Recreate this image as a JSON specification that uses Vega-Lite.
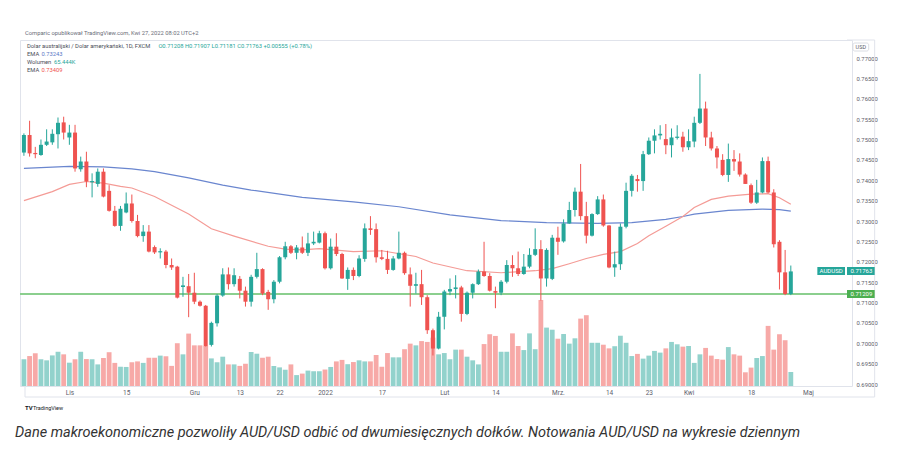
{
  "$schema": "https://vega.github.io/schema/vega-lite/v6.json",
  "width": 832,
  "height": 346,
  "autosize": {"type": "none"},
  "padding": {"left": 20, "top": 40, "right": 57, "bottom": 85},
  "background": "#ffffff",
  "config": {
    "view": {"stroke": "#e0e3eb", "strokeWidth": 1},
    "text": {"font": "Roboto"},
    "axis": {"labelFont": "Roboto", "labelFontSize": 6.5, "labelColor": "#5d606b", "grid": false, "ticks": false, "domain": false, "title": null, "labelFlush": false, "labelOverlap": false}
  },
  "title": {"text": "Dane makroekonomiczne pozwoliły AUD/USD odbić od dwumiesięcznych dołków. Notowania AUD/USD na wykresie dziennym", "orient": "bottom", "anchor": "start", "frame": "group", "font": "Roboto", "fontSize": 14.5, "fontStyle": "italic", "fontWeight": "normal", "color": "#333333", "offset": 14, "dx": -5},
  "datasets": {
    "bars": [
      {"i":0,"d":"2021-10-20","o":0.7468,"h":0.7515,"l":0.7460,"c":0.7511,"v":125},
      {"i":1,"d":"2021-10-21","o":0.7511,"h":0.7546,"l":0.7458,"c":0.7466,"v":140},
      {"i":2,"d":"2021-10-22","o":0.7467,"h":0.7482,"l":0.7454,"c":0.7464,"v":153},
      {"i":3,"d":"2021-10-25","o":0.7462,"h":0.7500,"l":0.7460,"c":0.7487,"v":125},
      {"i":4,"d":"2021-10-26","o":0.7487,"h":0.7525,"l":0.7484,"c":0.7495,"v":120},
      {"i":5,"d":"2021-10-27","o":0.7493,"h":0.7525,"l":0.7487,"c":0.7514,"v":143},
      {"i":6,"d":"2021-10-28","o":0.7513,"h":0.7554,"l":0.7478,"c":0.7541,"v":160},
      {"i":7,"d":"2021-10-29","o":0.7542,"h":0.7556,"l":0.7500,"c":0.7517,"v":148},
      {"i":8,"d":"2021-11-01","o":0.7505,"h":0.7536,"l":0.7487,"c":0.7517,"v":109},
      {"i":9,"d":"2021-11-02","o":0.7517,"h":0.7536,"l":0.7421,"c":0.7429,"v":125},
      {"i":10,"d":"2021-11-03","o":0.7427,"h":0.7458,"l":0.7421,"c":0.7446,"v":160},
      {"i":11,"d":"2021-11-04","o":0.7446,"h":0.7470,"l":0.7383,"c":0.7397,"v":126},
      {"i":12,"d":"2021-11-05","o":0.7395,"h":0.7417,"l":0.7358,"c":0.7398,"v":125},
      {"i":13,"d":"2021-11-08","o":0.7391,"h":0.7429,"l":0.7384,"c":0.7421,"v":101},
      {"i":14,"d":"2021-11-09","o":0.7421,"h":0.7429,"l":0.7358,"c":0.7360,"v":131},
      {"i":15,"d":"2021-11-10","o":0.7374,"h":0.7388,"l":0.7323,"c":0.7325,"v":158},
      {"i":16,"d":"2021-11-11","o":0.7325,"h":0.7337,"l":0.7286,"c":0.7288,"v":108},
      {"i":17,"d":"2021-11-12","o":0.7288,"h":0.7337,"l":0.7276,"c":0.7330,"v":90},
      {"i":18,"d":"2021-11-15","o":0.7321,"h":0.7370,"l":0.7319,"c":0.7343,"v":89},
      {"i":19,"d":"2021-11-16","o":0.7343,"h":0.7365,"l":0.7296,"c":0.7300,"v":111},
      {"i":20,"d":"2021-11-17","o":0.7300,"h":0.7315,"l":0.7260,"c":0.7263,"v":115},
      {"i":21,"d":"2021-11-18","o":0.7263,"h":0.7290,"l":0.7249,"c":0.7274,"v":108},
      {"i":22,"d":"2021-11-19","o":0.7274,"h":0.7290,"l":0.7223,"c":0.7225,"v":132},
      {"i":23,"d":"2021-11-22","o":0.7236,"h":0.7240,"l":0.7219,"c":0.7223,"v":132},
      {"i":24,"d":"2021-11-23","o":0.7223,"h":0.7233,"l":0.7208,"c":0.7226,"v":142},
      {"i":25,"d":"2021-11-24","o":0.7225,"h":0.7229,"l":0.7184,"c":0.7192,"v":139},
      {"i":26,"d":"2021-11-25","o":0.7192,"h":0.7208,"l":0.7180,"c":0.7186,"v":94},
      {"i":27,"d":"2021-11-26","o":0.7188,"h":0.7190,"l":0.7110,"c":0.7112,"v":200},
      {"i":28,"d":"2021-11-29","o":0.7138,"h":0.7163,"l":0.7114,"c":0.7142,"v":148},
      {"i":29,"d":"2021-11-30","o":0.7140,"h":0.7170,"l":0.7064,"c":0.7124,"v":245},
      {"i":30,"d":"2021-12-01","o":0.7124,"h":0.7173,"l":0.7096,"c":0.7102,"v":190},
      {"i":31,"d":"2021-12-02","o":0.7102,"h":0.7105,"l":0.7090,"c":0.7092,"v":190},
      {"i":32,"d":"2021-12-03","o":0.7092,"h":0.7094,"l":0.6992,"c":0.6993,"v":187},
      {"i":33,"d":"2021-12-06","o":0.6996,"h":0.7053,"l":0.6992,"c":0.7050,"v":129},
      {"i":34,"d":"2021-12-07","o":0.7049,"h":0.7121,"l":0.7041,"c":0.7117,"v":111},
      {"i":35,"d":"2021-12-08","o":0.7117,"h":0.7184,"l":0.7114,"c":0.7169,"v":137},
      {"i":36,"d":"2021-12-09","o":0.7169,"h":0.7186,"l":0.7132,"c":0.7145,"v":101},
      {"i":37,"d":"2021-12-10","o":0.7145,"h":0.7184,"l":0.7139,"c":0.7167,"v":101},
      {"i":38,"d":"2021-12-13","o":0.7158,"h":0.7165,"l":0.7110,"c":0.7129,"v":94},
      {"i":39,"d":"2021-12-14","o":0.7129,"h":0.7139,"l":0.7090,"c":0.7102,"v":104},
      {"i":40,"d":"2021-12-15","o":0.7102,"h":0.7168,"l":0.7090,"c":0.7163,"v":159},
      {"i":41,"d":"2021-12-16","o":0.7163,"h":0.7222,"l":0.7159,"c":0.7182,"v":151},
      {"i":42,"d":"2021-12-17","o":0.7182,"h":0.7184,"l":0.7118,"c":0.7122,"v":132},
      {"i":43,"d":"2021-12-20","o":0.7126,"h":0.7131,"l":0.7082,"c":0.7108,"v":137},
      {"i":44,"d":"2021-12-21","o":0.7108,"h":0.7155,"l":0.7098,"c":0.7151,"v":94},
      {"i":45,"d":"2021-12-22","o":0.7151,"h":0.7214,"l":0.7147,"c":0.7211,"v":87},
      {"i":46,"d":"2021-12-23","o":0.7211,"h":0.7249,"l":0.7206,"c":0.7238,"v":76},
      {"i":47,"d":"2021-12-24","o":0.7238,"h":0.7241,"l":0.7219,"c":0.7222,"v":101},
      {"i":48,"d":"2021-12-27","o":0.7222,"h":0.7241,"l":0.7206,"c":0.7235,"v":51},
      {"i":49,"d":"2021-12-28","o":0.7235,"h":0.7262,"l":0.7219,"c":0.7222,"v":58},
      {"i":50,"d":"2021-12-29","o":0.7222,"h":0.7271,"l":0.7214,"c":0.7245,"v":72},
      {"i":51,"d":"2021-12-30","o":0.7245,"h":0.7274,"l":0.7241,"c":0.7249,"v":69},
      {"i":52,"d":"2021-12-31","o":0.7247,"h":0.7276,"l":0.7245,"c":0.7270,"v":69},
      {"i":53,"d":"2022-01-03","o":0.7270,"h":0.7274,"l":0.7181,"c":0.7184,"v":77},
      {"i":54,"d":"2022-01-04","o":0.7184,"h":0.7257,"l":0.7181,"c":0.7237,"v":89},
      {"i":55,"d":"2022-01-05","o":0.7237,"h":0.7270,"l":0.7214,"c":0.7219,"v":115},
      {"i":56,"d":"2022-01-06","o":0.7219,"h":0.7222,"l":0.7158,"c":0.7159,"v":122},
      {"i":57,"d":"2022-01-07","o":0.7158,"h":0.7186,"l":0.7131,"c":0.7180,"v":102},
      {"i":58,"d":"2022-01-10","o":0.7180,"h":0.7186,"l":0.7155,"c":0.7165,"v":112},
      {"i":59,"d":"2022-01-11","o":0.7165,"h":0.7216,"l":0.7162,"c":0.7208,"v":120},
      {"i":60,"d":"2022-01-12","o":0.7207,"h":0.7294,"l":0.7200,"c":0.7282,"v":115},
      {"i":61,"d":"2022-01-13","o":0.7282,"h":0.7312,"l":0.7266,"c":0.7278,"v":115},
      {"i":62,"d":"2022-01-14","o":0.7280,"h":0.7294,"l":0.7198,"c":0.7211,"v":145},
      {"i":63,"d":"2022-01-17","o":0.7211,"h":0.7229,"l":0.7204,"c":0.7207,"v":90},
      {"i":64,"d":"2022-01-18","o":0.7207,"h":0.7227,"l":0.7170,"c":0.7180,"v":154},
      {"i":65,"d":"2022-01-19","o":0.7180,"h":0.7214,"l":0.7178,"c":0.7208,"v":134},
      {"i":66,"d":"2022-01-20","o":0.7208,"h":0.7274,"l":0.7206,"c":0.7222,"v":134},
      {"i":67,"d":"2022-01-21","o":0.7222,"h":0.7225,"l":0.7168,"c":0.7172,"v":172},
      {"i":68,"d":"2022-01-24","o":0.7169,"h":0.7186,"l":0.7090,"c":0.7141,"v":198},
      {"i":69,"d":"2022-01-25","o":0.7141,"h":0.7173,"l":0.7122,"c":0.7145,"v":190},
      {"i":70,"d":"2022-01-26","o":0.7145,"h":0.7180,"l":0.7094,"c":0.7113,"v":210},
      {"i":71,"d":"2022-01-27","o":0.7113,"h":0.7118,"l":0.7023,"c":0.7032,"v":206},
      {"i":72,"d":"2022-01-28","o":0.7032,"h":0.7036,"l":0.6970,"c":0.6987,"v":226},
      {"i":73,"d":"2022-01-31","o":0.6987,"h":0.7077,"l":0.6985,"c":0.7065,"v":148},
      {"i":74,"d":"2022-02-01","o":0.7065,"h":0.7131,"l":0.7034,"c":0.7127,"v":154},
      {"i":75,"d":"2022-02-02","o":0.7127,"h":0.7159,"l":0.7118,"c":0.7133,"v":125},
      {"i":76,"d":"2022-02-03","o":0.7133,"h":0.7167,"l":0.7110,"c":0.7137,"v":170},
      {"i":77,"d":"2022-02-04","o":0.7137,"h":0.7141,"l":0.7053,"c":0.7072,"v":170},
      {"i":78,"d":"2022-02-07","o":0.7072,"h":0.7127,"l":0.7069,"c":0.7124,"v":137},
      {"i":79,"d":"2022-02-08","o":0.7124,"h":0.7147,"l":0.7110,"c":0.7145,"v":120},
      {"i":80,"d":"2022-02-09","o":0.7145,"h":0.7181,"l":0.7143,"c":0.7176,"v":101},
      {"i":81,"d":"2022-02-10","o":0.7176,"h":0.7249,"l":0.7163,"c":0.7165,"v":196},
      {"i":82,"d":"2022-02-11","o":0.7165,"h":0.7172,"l":0.7127,"c":0.7129,"v":242},
      {"i":83,"d":"2022-02-14","o":0.7128,"h":0.7139,"l":0.7086,"c":0.7124,"v":234},
      {"i":84,"d":"2022-02-15","o":0.7124,"h":0.7155,"l":0.7118,"c":0.7151,"v":160},
      {"i":85,"d":"2022-02-16","o":0.7151,"h":0.7204,"l":0.7147,"c":0.7192,"v":160},
      {"i":86,"d":"2022-02-17","o":0.7192,"h":0.7216,"l":0.7163,"c":0.7184,"v":246},
      {"i":87,"d":"2022-02-18","o":0.7184,"h":0.7225,"l":0.7165,"c":0.7170,"v":187},
      {"i":88,"d":"2022-02-21","o":0.7170,"h":0.7219,"l":0.7168,"c":0.7188,"v":168},
      {"i":89,"d":"2022-02-22","o":0.7188,"h":0.7233,"l":0.7184,"c":0.7217,"v":246},
      {"i":90,"d":"2022-02-23","o":0.7217,"h":0.7282,"l":0.7214,"c":0.7231,"v":172},
      {"i":91,"d":"2022-02-24","o":0.7231,"h":0.7253,"l":0.7105,"c":0.7159,"v":402},
      {"i":92,"d":"2022-02-25","o":0.7159,"h":0.7233,"l":0.7139,"c":0.7229,"v":273},
      {"i":93,"d":"2022-02-28","o":0.7158,"h":0.7266,"l":0.7155,"c":0.7259,"v":263},
      {"i":94,"d":"2022-03-01","o":0.7259,"h":0.7286,"l":0.7217,"c":0.7249,"v":221},
      {"i":95,"d":"2022-03-02","o":0.7250,"h":0.7304,"l":0.7247,"c":0.7294,"v":243},
      {"i":96,"d":"2022-03-03","o":0.7294,"h":0.7347,"l":0.7293,"c":0.7327,"v":198},
      {"i":97,"d":"2022-03-04","o":0.7327,"h":0.7382,"l":0.7311,"c":0.7372,"v":223},
      {"i":98,"d":"2022-03-07","o":0.7372,"h":0.7440,"l":0.7302,"c":0.7312,"v":315},
      {"i":99,"d":"2022-03-08","o":0.7312,"h":0.7347,"l":0.7245,"c":0.7264,"v":331},
      {"i":100,"d":"2022-03-09","o":0.7264,"h":0.7319,"l":0.7262,"c":0.7317,"v":202},
      {"i":101,"d":"2022-03-10","o":0.7317,"h":0.7361,"l":0.7315,"c":0.7353,"v":202},
      {"i":102,"d":"2022-03-11","o":0.7353,"h":0.7365,"l":0.7286,"c":0.7289,"v":193},
      {"i":103,"d":"2022-03-14","o":0.7289,"h":0.7290,"l":0.7184,"c":0.7186,"v":176},
      {"i":104,"d":"2022-03-15","o":0.7186,"h":0.7225,"l":0.7163,"c":0.7194,"v":186},
      {"i":105,"d":"2022-03-16","o":0.7194,"h":0.7294,"l":0.7180,"c":0.7286,"v":235},
      {"i":106,"d":"2022-03-17","o":0.7286,"h":0.7394,"l":0.7282,"c":0.7374,"v":202},
      {"i":107,"d":"2022-03-18","o":0.7374,"h":0.7415,"l":0.7360,"c":0.7411,"v":140},
      {"i":108,"d":"2022-03-21","o":0.7403,"h":0.7413,"l":0.7372,"c":0.7398,"v":150},
      {"i":109,"d":"2022-03-22","o":0.7398,"h":0.7472,"l":0.7374,"c":0.7464,"v":128},
      {"i":110,"d":"2022-03-23","o":0.7464,"h":0.7505,"l":0.7462,"c":0.7497,"v":142},
      {"i":111,"d":"2022-03-24","o":0.7497,"h":0.7525,"l":0.7466,"c":0.7510,"v":164},
      {"i":112,"d":"2022-03-25","o":0.7510,"h":0.7535,"l":0.7500,"c":0.7514,"v":156},
      {"i":113,"d":"2022-03-28","o":0.7501,"h":0.7538,"l":0.7464,"c":0.7486,"v":176},
      {"i":114,"d":"2022-03-29","o":0.7486,"h":0.7527,"l":0.7456,"c":0.7505,"v":206},
      {"i":115,"d":"2022-03-30","o":0.7504,"h":0.7535,"l":0.7500,"c":0.7507,"v":195},
      {"i":116,"d":"2022-03-31","o":0.7507,"h":0.7519,"l":0.7470,"c":0.7481,"v":184},
      {"i":117,"d":"2022-04-01","o":0.7481,"h":0.7525,"l":0.7474,"c":0.7496,"v":187},
      {"i":118,"d":"2022-04-04","o":0.7495,"h":0.7556,"l":0.7481,"c":0.7541,"v":108},
      {"i":119,"d":"2022-04-05","o":0.7541,"h":0.7661,"l":0.7538,"c":0.7576,"v":148},
      {"i":120,"d":"2022-04-06","o":0.7576,"h":0.7593,"l":0.7484,"c":0.7505,"v":178},
      {"i":121,"d":"2022-04-07","o":0.7505,"h":0.7519,"l":0.7473,"c":0.7478,"v":142},
      {"i":122,"d":"2022-04-08","o":0.7478,"h":0.7484,"l":0.7429,"c":0.7456,"v":126},
      {"i":123,"d":"2022-04-11","o":0.7450,"h":0.7464,"l":0.7410,"c":0.7413,"v":123},
      {"i":124,"d":"2022-04-12","o":0.7413,"h":0.7490,"l":0.7396,"c":0.7452,"v":182},
      {"i":125,"d":"2022-04-13","o":0.7452,"h":0.7474,"l":0.7423,"c":0.7446,"v":148},
      {"i":126,"d":"2022-04-14","o":0.7446,"h":0.7466,"l":0.7409,"c":0.7414,"v":142},
      {"i":127,"d":"2022-04-15","o":0.7414,"h":0.7417,"l":0.7391,"c":0.7391,"v":64},
      {"i":128,"d":"2022-04-18","o":0.7388,"h":0.7392,"l":0.7342,"c":0.7345,"v":86},
      {"i":129,"d":"2022-04-19","o":0.7345,"h":0.7401,"l":0.7342,"c":0.7370,"v":131},
      {"i":130,"d":"2022-04-20","o":0.7370,"h":0.7456,"l":0.7368,"c":0.7447,"v":140},
      {"i":131,"d":"2022-04-21","o":0.7447,"h":0.7458,"l":0.7368,"c":0.7370,"v":281},
      {"i":132,"d":"2022-04-22","o":0.7370,"h":0.7378,"l":0.7235,"c":0.7243,"v":170},
      {"i":133,"d":"2022-04-25","o":0.7249,"h":0.7253,"l":0.7132,"c":0.7174,"v":242},
      {"i":134,"d":"2022-04-26","o":0.7174,"h":0.7229,"l":0.7118,"c":0.71208,"v":214},
      {"i":135,"d":"2022-04-27","o":0.71208,"h":0.71907,"l":0.71181,"c":0.71763,"v":65.444}
    ],
    "ema200": [
      {"i":0,"v":0.7429},{"i":5,"v":0.7432},{"i":8,"v":0.7434},{"i":14,"v":0.7433},{"i":19,"v":0.7428},{"i":23,"v":0.7421},{"i":29,"v":0.7406},{"i":35,"v":0.7388},{"i":40,"v":0.7376},{"i":49,"v":0.7358},{"i":58,"v":0.7347},{"i":66,"v":0.7335},{"i":75,"v":0.7315},{"i":84,"v":0.7301},{"i":92,"v":0.7296},{"i":101,"v":0.7294},{"i":107,"v":0.7296},{"i":113,"v":0.7304},{"i":116,"v":0.7311},{"i":118,"v":0.7317},{"i":124,"v":0.7326},{"i":130,"v":0.7329},{"i":133,"v":0.7328},{"i":135,"v":0.73243}
    ],
    "ema50": [
      {"i":0,"v":0.7350},{"i":5,"v":0.7372},{"i":8,"v":0.7390},{"i":11,"v":0.7397},{"i":14,"v":0.7393},{"i":17,"v":0.7385},{"i":19,"v":0.7381},{"i":23,"v":0.7360},{"i":29,"v":0.7317},{"i":33,"v":0.7281},{"i":37,"v":0.7263},{"i":43,"v":0.7238},{"i":46,"v":0.7231},{"i":49,"v":0.7229},{"i":52,"v":0.7232},{"i":58,"v":0.7225},{"i":63,"v":0.7227},{"i":69,"v":0.7213},{"i":72,"v":0.7197},{"i":78,"v":0.7178},{"i":84,"v":0.7173},{"i":90,"v":0.7178},{"i":93,"v":0.7183},{"i":96,"v":0.7195},{"i":99,"v":0.7208},{"i":102,"v":0.7218},{"i":105,"v":0.7225},{"i":108,"v":0.7245},{"i":110,"v":0.7264},{"i":113,"v":0.7287},{"i":116,"v":0.7311},{"i":118,"v":0.7333},{"i":121,"v":0.7353},{"i":124,"v":0.7361},{"i":128,"v":0.7366},{"i":131,"v":0.7367},{"i":133,"v":0.7357},{"i":135,"v":0.73409}
    ]
  },
  "layer": [
    {
      "data": {"name": "bars"},
      "mark": {"type": "bar", "orient": "vertical", "size": 4.8, "opacity": 0.5, "clip": true},
      "encoding": {
        "x": {"field": "i", "type": "quantitative", "scale": {"domain": [0.191, 144.89], "nice": false, "zero": false},
          "axis": {"values": [8,18,30,38,45,53,63,74,83,94,103,110,117,128,138], "labelPadding": 3, "labelOverlap": false, "labelFlush": false,
            "labelExpr": "datum.value==8?'Lis':datum.value==18?'15':datum.value==30?'Gru':datum.value==38?'13':datum.value==45?'22':datum.value==53?'2022':datum.value==63?'17':datum.value==74?'Lut':datum.value==83?'14':datum.value==94?'Mrz.':datum.value==103?'14':datum.value==110?'23':datum.value==117?'Kwi':datum.value==128?'18':datum.value==138?'Maj':''"}},
        "y": {"field": "v", "type": "quantitative", "scale": {"domain": [0, 1617.6], "nice": false, "zero": true}, "axis": null},
        "color": {"condition": {"test": "datum.c >= datum.o", "value": "#26a69a"}, "value": "#ef5350"}
      }
    },
    {
      "layer": [
        {
          "data": {"name": "ema200"},
          "mark": {"type": "line", "color": "#6a86cf", "strokeWidth": 1.2, "clip": true},
          "encoding": {
            "x": {"field": "i", "type": "quantitative"},
            "y": {"field": "v", "type": "quantitative", "scale": {"domain": [0.68951, 0.77442], "nice": false, "zero": false},
              "axis": {"orient": "right", "values": [0.69,0.695,0.7,0.705,0.71,0.715,0.72,0.725,0.73,0.735,0.74,0.745,0.75,0.755,0.76,0.765,0.77], "tickCount": 17, "tickMinStep": 0.005, "format": ".5f", "labelPadding": 4, "labelOverlap": false, "labelFlush": false, "labelSeparation": 0, "labelFontSize": 5.9}}
          }
        },
        {
          "data": {"name": "ema50"},
          "mark": {"type": "line", "color": "#f49b96", "strokeWidth": 1.2, "clip": true},
          "encoding": {
            "x": {"field": "i", "type": "quantitative"},
            "y": {"field": "v", "type": "quantitative"}
          }
        },
        {
          "data": {"values": [{}]},
          "mark": {"type": "rule", "color": "#8bcf8e", "strokeWidth": 2},
          "encoding": {"y": {"datum": 0.71209, "type": "quantitative"}}
        },
        {
          "data": {"values": [{}]},
          "mark": {"type": "rule", "color": "#e0e3eb", "strokeWidth": 1},
          "encoding": {"x": {"datum": 149.76, "type": "quantitative"}, "y": {"datum": 0.77442, "type": "quantitative"}, "y2": {"datum": 0.68681}}
        },
        {
          "data": {"values": [{}]},
          "mark": {"type": "rule", "color": "#e0e3eb", "strokeWidth": 1},
          "encoding": {"x": {"datum": 0.191, "type": "quantitative"}, "x2": {"datum": 149.76}, "y": {"datum": 0.68681, "type": "quantitative"}}
        },
        {
          "data": {"values": [{}]},
          "mark": {"type": "rule", "color": "#e0e3eb", "strokeWidth": 1},
          "encoding": {"x": {"datum": 0.191, "type": "quantitative"}, "y": {"datum": 0.68951, "type": "quantitative"}, "y2": {"datum": 0.68681}}
        },
        {
          "data": {"values": [{}]},
          "mark": {"type": "rule", "color": "#e0e3eb", "strokeWidth": 1},
          "encoding": {"x": {"datum": 144.89, "type": "quantitative"}, "x2": {"datum": 149.76}, "y": {"datum": 0.77442, "type": "quantitative"}}
        },
        {
          "data": {"name": "bars"},
          "mark": {"type": "rule", "strokeWidth": 1, "clip": true},
          "encoding": {
            "x": {"field": "i", "type": "quantitative"},
            "y": {"field": "l", "type": "quantitative"},
            "y2": {"field": "h"},
            "color": {"condition": {"test": "datum.c >= datum.o", "value": "#26a69a"}, "value": "#ef5350"}
          }
        },
        {
          "data": {"name": "bars"},
          "mark": {"type": "bar", "orient": "vertical", "size": 4, "clip": true},
          "encoding": {
            "x": {"field": "i", "type": "quantitative"},
            "y": {"field": "o", "type": "quantitative"},
            "y2": {"field": "c"},
            "color": {"condition": {"test": "datum.c >= datum.o", "value": "#26a69a"}, "value": "#ef5350"}
          }
        },
        {
          "data": {"values": [{}]},
          "mark": {"type": "rect", "color": "#26a69a"},
          "encoding": {"x": {"datum": 139.67, "type": "quantitative"}, "x2": {"datum": 144.54}, "y": {"datum": 0.71871, "type": "quantitative"}, "y2": {"datum": 0.71675}}
        },
        {
          "data": {"values": [{}]},
          "mark": {"type": "rect", "color": "#26a69a"},
          "encoding": {"x": {"datum": 144.89, "type": "quantitative"}, "x2": {"datum": 149.76}, "y": {"datum": 0.71871, "type": "quantitative"}, "y2": {"datum": 0.71675}}
        },
        {
          "data": {"values": [{}]},
          "mark": {"type": "rect", "color": "#4caf50"},
          "encoding": {"x": {"datum": 144.89, "type": "quantitative"}, "x2": {"datum": 149.76}, "y": {"datum": 0.71307, "type": "quantitative"}, "y2": {"datum": 0.71110}}
        },
        {
          "data": {"values": [{}]},
          "mark": {"type": "rect", "fill": "#ffffff", "stroke": "#d1d4dc", "strokeWidth": 0.8, "cornerRadius": 2},
          "encoding": {"x": {"datum": 145.93, "type": "quantitative"}, "x2": {"datum": 148.71}, "y": {"datum": 0.77368, "type": "quantitative"}, "y2": {"datum": 0.77172}}
        },
        {
          "data": {"values": [{}]},
          "mark": {"type": "text", "text": "USD", "align": "center", "baseline": "middle", "fontSize": 5.5, "color": "#5d606b"},
          "encoding": {"x": {"datum": 147.32, "type": "quantitative"}, "y": {"datum": 0.7727, "type": "quantitative"}}
        },
        {
          "data": {"values": [{}]},
          "mark": {"type": "text", "text": "AUDUSD", "align": "center", "baseline": "middle", "fontSize": 6, "color": "#ffffff"},
          "encoding": {"x": {"datum": 142.1, "type": "quantitative"}, "y": {"datum": 0.71773, "type": "quantitative"}}
        },
        {
          "data": {"values": [{}]},
          "mark": {"type": "text", "text": "0.71763", "align": "left", "baseline": "middle", "fontSize": 6, "color": "#ffffff"},
          "encoding": {"x": {"datum": 145.5, "type": "quantitative"}, "y": {"datum": 0.71773, "type": "quantitative"}}
        },
        {
          "data": {"values": [{}]},
          "mark": {"type": "text", "text": "0.71209", "align": "left", "baseline": "middle", "fontSize": 6, "color": "#ffffff"},
          "encoding": {"x": {"datum": 145.5, "type": "quantitative"}, "y": {"datum": 0.71209, "type": "quantitative"}}
        },
        {
          "data": {"values": [{}]},
          "mark": {"type": "text", "text": "Comparic opublikował TradingView.com, Kwi 27, 2022 08:02 UTC+2", "align": "left", "baseline": "middle", "fontSize": 5.8, "color": "#6a6d78"},
          "encoding": {"x": {"datum": 0.191, "type": "quantitative"}, "y": {"datum": 0.77613, "type": "quantitative"}}
        },
        {
          "data": {"values": [{}]},
          "mark": {"type": "text", "text": "Dolar australijski / Dolar amerykański, 1D, FXCM", "align": "left", "baseline": "middle", "fontSize": 5.8, "color": "#4a4d57"},
          "encoding": {"x": {"datum": 0.54, "type": "quantitative"}, "y": {"datum": 0.772945, "type": "quantitative"}}
        },
        {
          "data": {"values": [{}]},
          "mark": {"type": "text", "text": "O0.71208  H0.71907  L0.71181  C0.71763  +0.00555 (+0.78%)", "align": "left", "baseline": "middle", "fontSize": 5.8, "color": "#26a69a"},
          "encoding": {"x": {"datum": 23.67, "type": "quantitative"}, "y": {"datum": 0.772945, "type": "quantitative"}}
        },
        {
          "data": {"values": [{}]},
          "mark": {"type": "text", "text": "EMA", "align": "left", "baseline": "middle", "fontSize": 5.8, "color": "#4a4d57"},
          "encoding": {"x": {"datum": 0.54, "type": "quantitative"}, "y": {"datum": 0.770982, "type": "quantitative"}}
        },
        {
          "data": {"values": [{}]},
          "mark": {"type": "text", "text": "0.73243", "align": "left", "baseline": "middle", "fontSize": 5.8, "color": "#5a78c5"},
          "encoding": {"x": {"datum": 3.1, "type": "quantitative"}, "y": {"datum": 0.770982, "type": "quantitative"}}
        },
        {
          "data": {"values": [{}]},
          "mark": {"type": "text", "text": "Wolumen", "align": "left", "baseline": "middle", "fontSize": 5.8, "color": "#4a4d57"},
          "encoding": {"x": {"datum": 0.54, "type": "quantitative"}, "y": {"datum": 0.769018, "type": "quantitative"}}
        },
        {
          "data": {"values": [{}]},
          "mark": {"type": "text", "text": "65.444K", "align": "left", "baseline": "middle", "fontSize": 5.8, "color": "#26a69a"},
          "encoding": {"x": {"datum": 5.29, "type": "quantitative"}, "y": {"datum": 0.769018, "type": "quantitative"}}
        },
        {
          "data": {"values": [{}]},
          "mark": {"type": "text", "text": "EMA", "align": "left", "baseline": "middle", "fontSize": 5.8, "color": "#4a4d57"},
          "encoding": {"x": {"datum": 0.54, "type": "quantitative"}, "y": {"datum": 0.767055, "type": "quantitative"}}
        },
        {
          "data": {"values": [{}]},
          "mark": {"type": "text", "text": "0.73409", "align": "left", "baseline": "middle", "fontSize": 5.8, "color": "#ef5350"},
          "encoding": {"x": {"datum": 3.1, "type": "quantitative"}, "y": {"datum": 0.767055, "type": "quantitative"}}
        },
        {
          "data": {"values": [{}]},
          "mark": {"type": "text", "text": "TV", "align": "left", "baseline": "middle", "fontSize": 6, "fontWeight": "bold", "color": "#131722"},
          "encoding": {"x": {"datum": 0.191, "type": "quantitative"}, "y": {"datum": 0.68411, "type": "quantitative"}}
        },
        {
          "data": {"values": [{}]},
          "mark": {"type": "text", "text": "TradingView", "align": "left", "baseline": "middle", "fontSize": 5.5, "color": "#131722"},
          "encoding": {"x": {"datum": 1.58, "type": "quantitative"}, "y": {"datum": 0.68411, "type": "quantitative"}}
        }
      ]
    }
  ],
  "resolve": {"scale": {"y": "independent"}}
}
